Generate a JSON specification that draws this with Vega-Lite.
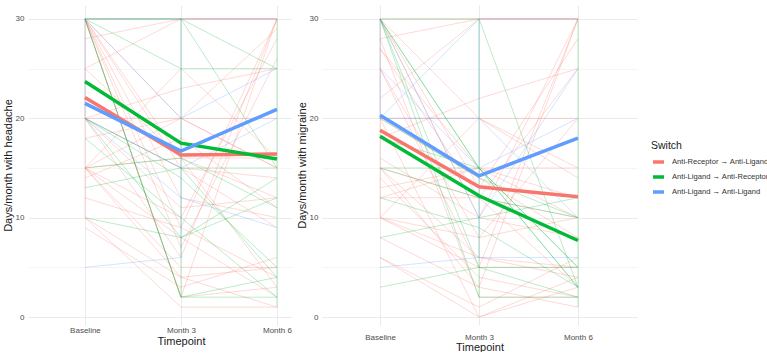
{
  "$schema": "https://vega.github.io/schema/vega-lite/v6.json",
  "background": "white",
  "padding": {"left": 2, "top": 5, "right": 0, "bottom": 0},
  "bounds": "flush",
  "spacing": 30,
  "datasets": {
    "patients": [
      {"id": "r1", "switch": "Anti-Receptor → Anti-Ligand", "month": 0, "headache": 30, "migraine": 30},
      {"id": "r1", "switch": "Anti-Receptor → Anti-Ligand", "month": 3, "headache": 30, "migraine": 30},
      {"id": "r1", "switch": "Anti-Receptor → Anti-Ligand", "month": 6, "headache": 30, "migraine": 30},
      {"id": "r2", "switch": "Anti-Receptor → Anti-Ligand", "month": 0, "headache": 30, "migraine": 28},
      {"id": "r2", "switch": "Anti-Receptor → Anti-Ligand", "month": 3, "headache": 2, "migraine": 2},
      {"id": "r2", "switch": "Anti-Receptor → Anti-Ligand", "month": 6, "headache": 3, "migraine": 2},
      {"id": "r3", "switch": "Anti-Receptor → Anti-Ligand", "month": 0, "headache": 30, "migraine": 30},
      {"id": "r3", "switch": "Anti-Receptor → Anti-Ligand", "month": 3, "headache": 9, "migraine": 10},
      {"id": "r3", "switch": "Anti-Receptor → Anti-Ligand", "month": 6, "headache": 30, "migraine": 30},
      {"id": "r4", "switch": "Anti-Receptor → Anti-Ligand", "month": 0, "headache": 30, "migraine": 25},
      {"id": "r4", "switch": "Anti-Receptor → Anti-Ligand", "month": 3, "headache": 12, "migraine": 8},
      {"id": "r4", "switch": "Anti-Receptor → Anti-Ligand", "month": 6, "headache": 10, "migraine": 10},
      {"id": "r5", "switch": "Anti-Receptor → Anti-Ligand", "month": 0, "headache": 30, "migraine": 30},
      {"id": "r5", "switch": "Anti-Receptor → Anti-Ligand", "month": 3, "headache": 20, "migraine": 20},
      {"id": "r5", "switch": "Anti-Receptor → Anti-Ligand", "month": 6, "headache": 15, "migraine": 14},
      {"id": "r6", "switch": "Anti-Receptor → Anti-Ligand", "month": 0, "headache": 30, "migraine": 27},
      {"id": "r6", "switch": "Anti-Receptor → Anti-Ligand", "month": 3, "headache": 15, "migraine": 12},
      {"id": "r6", "switch": "Anti-Receptor → Anti-Ligand", "month": 6, "headache": 14, "migraine": 10},
      {"id": "r7", "switch": "Anti-Receptor → Anti-Ligand", "month": 0, "headache": 28, "migraine": 28},
      {"id": "r7", "switch": "Anti-Receptor → Anti-Ligand", "month": 3, "headache": 30, "migraine": 30},
      {"id": "r7", "switch": "Anti-Receptor → Anti-Ligand", "month": 6, "headache": 30, "migraine": 30},
      {"id": "r8", "switch": "Anti-Receptor → Anti-Ligand", "month": 0, "headache": 25, "migraine": 20},
      {"id": "r8", "switch": "Anti-Receptor → Anti-Ligand", "month": 3, "headache": 16, "migraine": 14},
      {"id": "r8", "switch": "Anti-Receptor → Anti-Ligand", "month": 6, "headache": 12, "migraine": 8},
      {"id": "r9", "switch": "Anti-Receptor → Anti-Ligand", "month": 0, "headache": 20, "migraine": 20},
      {"id": "r9", "switch": "Anti-Receptor → Anti-Ligand", "month": 3, "headache": 20, "migraine": 20},
      {"id": "r9", "switch": "Anti-Receptor → Anti-Ligand", "month": 6, "headache": 20, "migraine": 20},
      {"id": "r10", "switch": "Anti-Receptor → Anti-Ligand", "month": 0, "headache": 20, "migraine": 18},
      {"id": "r10", "switch": "Anti-Receptor → Anti-Ligand", "month": 3, "headache": 23, "migraine": 22},
      {"id": "r10", "switch": "Anti-Receptor → Anti-Ligand", "month": 6, "headache": 25, "migraine": 25},
      {"id": "r11", "switch": "Anti-Receptor → Anti-Ligand", "month": 0, "headache": 20, "migraine": 15},
      {"id": "r11", "switch": "Anti-Receptor → Anti-Ligand", "month": 3, "headache": 6, "migraine": 3},
      {"id": "r11", "switch": "Anti-Receptor → Anti-Ligand", "month": 6, "headache": 30, "migraine": 30},
      {"id": "r12", "switch": "Anti-Receptor → Anti-Ligand", "month": 0, "headache": 15, "migraine": 15},
      {"id": "r12", "switch": "Anti-Receptor → Anti-Ligand", "month": 3, "headache": 20, "migraine": 12},
      {"id": "r12", "switch": "Anti-Receptor → Anti-Ligand", "month": 6, "headache": 29, "migraine": 25},
      {"id": "r13", "switch": "Anti-Receptor → Anti-Ligand", "month": 0, "headache": 15, "migraine": 12},
      {"id": "r13", "switch": "Anti-Receptor → Anti-Ligand", "month": 3, "headache": 16, "migraine": 12},
      {"id": "r13", "switch": "Anti-Receptor → Anti-Ligand", "month": 6, "headache": 3, "migraine": 3},
      {"id": "r14", "switch": "Anti-Receptor → Anti-Ligand", "month": 0, "headache": 15, "migraine": 15},
      {"id": "r14", "switch": "Anti-Receptor → Anti-Ligand", "month": 3, "headache": 4, "migraine": 6},
      {"id": "r14", "switch": "Anti-Receptor → Anti-Ligand", "month": 6, "headache": 5, "migraine": 5},
      {"id": "r15", "switch": "Anti-Receptor → Anti-Ligand", "month": 0, "headache": 15, "migraine": 10},
      {"id": "r15", "switch": "Anti-Receptor → Anti-Ligand", "month": 3, "headache": 5, "migraine": 5},
      {"id": "r15", "switch": "Anti-Receptor → Anti-Ligand", "month": 6, "headache": 5, "migraine": 5},
      {"id": "r16", "switch": "Anti-Receptor → Anti-Ligand", "month": 0, "headache": 15, "migraine": 10},
      {"id": "r16", "switch": "Anti-Receptor → Anti-Ligand", "month": 3, "headache": 10, "migraine": 8},
      {"id": "r16", "switch": "Anti-Receptor → Anti-Ligand", "month": 6, "headache": 28, "migraine": 20},
      {"id": "r17", "switch": "Anti-Receptor → Anti-Ligand", "month": 0, "headache": 15, "migraine": 10},
      {"id": "r17", "switch": "Anti-Receptor → Anti-Ligand", "month": 3, "headache": 25, "migraine": 20},
      {"id": "r17", "switch": "Anti-Receptor → Anti-Ligand", "month": 6, "headache": 16, "migraine": 15},
      {"id": "r18", "switch": "Anti-Receptor → Anti-Ligand", "month": 0, "headache": 15, "migraine": 14},
      {"id": "r18", "switch": "Anti-Receptor → Anti-Ligand", "month": 3, "headache": 8, "migraine": 4},
      {"id": "r18", "switch": "Anti-Receptor → Anti-Ligand", "month": 6, "headache": 2, "migraine": 2},
      {"id": "r19", "switch": "Anti-Receptor → Anti-Ligand", "month": 0, "headache": 14, "migraine": 12},
      {"id": "r19", "switch": "Anti-Receptor → Anti-Ligand", "month": 3, "headache": 18, "migraine": 15},
      {"id": "r19", "switch": "Anti-Receptor → Anti-Ligand", "month": 6, "headache": 11, "migraine": 10},
      {"id": "r20", "switch": "Anti-Receptor → Anti-Ligand", "month": 0, "headache": 12, "migraine": 10},
      {"id": "r20", "switch": "Anti-Receptor → Anti-Ligand", "month": 3, "headache": 9, "migraine": 6},
      {"id": "r20", "switch": "Anti-Receptor → Anti-Ligand", "month": 6, "headache": 4, "migraine": 4},
      {"id": "r21", "switch": "Anti-Receptor → Anti-Ligand", "month": 0, "headache": 10, "migraine": 8},
      {"id": "r21", "switch": "Anti-Receptor → Anti-Ligand", "month": 3, "headache": 4, "migraine": 3},
      {"id": "r21", "switch": "Anti-Receptor → Anti-Ligand", "month": 6, "headache": 1, "migraine": 1},
      {"id": "r22", "switch": "Anti-Receptor → Anti-Ligand", "month": 0, "headache": 10, "migraine": 6},
      {"id": "r22", "switch": "Anti-Receptor → Anti-Ligand", "month": 3, "headache": 1, "migraine": 0},
      {"id": "r22", "switch": "Anti-Receptor → Anti-Ligand", "month": 6, "headache": 1, "migraine": 4},
      {"id": "r23", "switch": "Anti-Receptor → Anti-Ligand", "month": 0, "headache": 9, "migraine": 6},
      {"id": "r23", "switch": "Anti-Receptor → Anti-Ligand", "month": 3, "headache": 3, "migraine": 1},
      {"id": "r23", "switch": "Anti-Receptor → Anti-Ligand", "month": 6, "headache": 6, "migraine": 6},
      {"id": "r24", "switch": "Anti-Receptor → Anti-Ligand", "month": 0, "headache": 30, "migraine": 30},
      {"id": "r24", "switch": "Anti-Receptor → Anti-Ligand", "month": 3, "headache": 7, "migraine": 13},
      {"id": "r24", "switch": "Anti-Receptor → Anti-Ligand", "month": 6, "headache": 26, "migraine": 28},
      {"id": "r25", "switch": "Anti-Receptor → Anti-Ligand", "month": 0, "headache": 25, "migraine": 22},
      {"id": "r25", "switch": "Anti-Receptor → Anti-Ligand", "month": 3, "headache": 30, "migraine": 30},
      {"id": "r25", "switch": "Anti-Receptor → Anti-Ligand", "month": 6, "headache": 30, "migraine": 30},
      {"id": "r26", "switch": "Anti-Receptor → Anti-Ligand", "month": 0, "headache": 20, "migraine": 16},
      {"id": "r26", "switch": "Anti-Receptor → Anti-Ligand", "month": 3, "headache": 15, "migraine": 10},
      {"id": "r26", "switch": "Anti-Receptor → Anti-Ligand", "month": 6, "headache": 9, "migraine": 8},
      {"id": "r27", "switch": "Anti-Receptor → Anti-Ligand", "month": 0, "headache": 30, "migraine": 25},
      {"id": "r27", "switch": "Anti-Receptor → Anti-Ligand", "month": 3, "headache": 2, "migraine": 5},
      {"id": "r27", "switch": "Anti-Receptor → Anti-Ligand", "month": 6, "headache": 30, "migraine": 30},
      {"id": "r28", "switch": "Anti-Receptor → Anti-Ligand", "month": 0, "headache": 18, "migraine": 13},
      {"id": "r28", "switch": "Anti-Receptor → Anti-Ligand", "month": 3, "headache": 20, "migraine": 15},
      {"id": "r28", "switch": "Anti-Receptor → Anti-Ligand", "month": 6, "headache": 15, "migraine": 15},
      {"id": "r29", "switch": "Anti-Receptor → Anti-Ligand", "month": 0, "headache": 30, "migraine": 27},
      {"id": "r29", "switch": "Anti-Receptor → Anti-Ligand", "month": 3, "headache": 16, "migraine": 15},
      {"id": "r29", "switch": "Anti-Receptor → Anti-Ligand", "month": 6, "headache": 16, "migraine": 12},
      {"id": "r30", "switch": "Anti-Receptor → Anti-Ligand", "month": 0, "headache": 20, "migraine": 20},
      {"id": "r30", "switch": "Anti-Receptor → Anti-Ligand", "month": 3, "headache": 11, "migraine": 0},
      {"id": "r30", "switch": "Anti-Receptor → Anti-Ligand", "month": 6, "headache": 12, "migraine": 3},
      {"id": "r31", "switch": "Anti-Receptor → Anti-Ligand", "month": 0, "headache": 10, "migraine": 10},
      {"id": "r31", "switch": "Anti-Receptor → Anti-Ligand", "month": 0, "headache": 30, "migraine": 30},
      {"id": "g1", "switch": "Anti-Ligand → Anti-Receptor", "month": 0, "headache": 30, "migraine": 30},
      {"id": "g1", "switch": "Anti-Ligand → Anti-Receptor", "month": 3, "headache": 25, "migraine": 15},
      {"id": "g1", "switch": "Anti-Ligand → Anti-Receptor", "month": 6, "headache": 25, "migraine": 3},
      {"id": "g2", "switch": "Anti-Ligand → Anti-Receptor", "month": 0, "headache": 30, "migraine": 30},
      {"id": "g2", "switch": "Anti-Ligand → Anti-Receptor", "month": 3, "headache": 2, "migraine": 2},
      {"id": "g2", "switch": "Anti-Ligand → Anti-Receptor", "month": 6, "headache": 2, "migraine": 2},
      {"id": "g3", "switch": "Anti-Ligand → Anti-Receptor", "month": 0, "headache": 30, "migraine": 30},
      {"id": "g3", "switch": "Anti-Ligand → Anti-Receptor", "month": 3, "headache": 2, "migraine": 5},
      {"id": "g3", "switch": "Anti-Ligand → Anti-Receptor", "month": 6, "headache": 4, "migraine": 5},
      {"id": "g4", "switch": "Anti-Ligand → Anti-Receptor", "month": 0, "headache": 30, "migraine": 30},
      {"id": "g4", "switch": "Anti-Ligand → Anti-Receptor", "month": 3, "headache": 30, "migraine": 30},
      {"id": "g4", "switch": "Anti-Ligand → Anti-Receptor", "month": 6, "headache": 15, "migraine": 3},
      {"id": "g5", "switch": "Anti-Ligand → Anti-Receptor", "month": 0, "headache": 20, "migraine": 20},
      {"id": "g5", "switch": "Anti-Ligand → Anti-Receptor", "month": 3, "headache": 15, "migraine": 14},
      {"id": "g5", "switch": "Anti-Ligand → Anti-Receptor", "month": 6, "headache": 15, "migraine": 10},
      {"id": "g6", "switch": "Anti-Ligand → Anti-Receptor", "month": 0, "headache": 20, "migraine": 18},
      {"id": "g6", "switch": "Anti-Ligand → Anti-Receptor", "month": 3, "headache": 14, "migraine": 15},
      {"id": "g6", "switch": "Anti-Ligand → Anti-Receptor", "month": 6, "headache": 5, "migraine": 3},
      {"id": "g7", "switch": "Anti-Ligand → Anti-Receptor", "month": 0, "headache": 20, "migraine": 15},
      {"id": "g7", "switch": "Anti-Ligand → Anti-Receptor", "month": 3, "headache": 8, "migraine": 15},
      {"id": "g7", "switch": "Anti-Ligand → Anti-Receptor", "month": 6, "headache": 12, "migraine": 5},
      {"id": "g8", "switch": "Anti-Ligand → Anti-Receptor", "month": 0, "headache": 15, "migraine": 15},
      {"id": "g8", "switch": "Anti-Ligand → Anti-Receptor", "month": 3, "headache": 16, "migraine": 12},
      {"id": "g8", "switch": "Anti-Ligand → Anti-Receptor", "month": 6, "headache": 11, "migraine": 10},
      {"id": "g9", "switch": "Anti-Ligand → Anti-Receptor", "month": 0, "headache": 13, "migraine": 12},
      {"id": "g9", "switch": "Anti-Ligand → Anti-Receptor", "month": 3, "headache": 15, "migraine": 9},
      {"id": "g9", "switch": "Anti-Ligand → Anti-Receptor", "month": 6, "headache": 4, "migraine": 3},
      {"id": "g10", "switch": "Anti-Ligand → Anti-Receptor", "month": 0, "headache": 10, "migraine": 8},
      {"id": "g10", "switch": "Anti-Ligand → Anti-Receptor", "month": 3, "headache": 8, "migraine": 10},
      {"id": "g10", "switch": "Anti-Ligand → Anti-Receptor", "month": 6, "headache": 14, "migraine": 12},
      {"id": "g11", "switch": "Anti-Ligand → Anti-Receptor", "month": 0, "headache": 30, "migraine": 30},
      {"id": "g11", "switch": "Anti-Ligand → Anti-Receptor", "month": 3, "headache": 30, "migraine": 15},
      {"id": "g11", "switch": "Anti-Ligand → Anti-Receptor", "month": 6, "headache": 25, "migraine": 5},
      {"id": "g12", "switch": "Anti-Ligand → Anti-Receptor", "month": 0, "headache": 18, "migraine": 3},
      {"id": "g12", "switch": "Anti-Ligand → Anti-Receptor", "month": 3, "headache": 10, "migraine": 5},
      {"id": "g12", "switch": "Anti-Ligand → Anti-Receptor", "month": 6, "headache": 2, "migraine": 2},
      {"id": "g13", "switch": "Anti-Ligand → Anti-Receptor", "month": 3, "headache": 2, "migraine": 2},
      {"id": "g13", "switch": "Anti-Ligand → Anti-Receptor", "month": 3, "headache": 30, "migraine": 30},
      {"id": "g14", "switch": "Anti-Ligand → Anti-Receptor", "month": 6, "headache": 1, "migraine": 1},
      {"id": "g14", "switch": "Anti-Ligand → Anti-Receptor", "month": 6, "headache": 30, "migraine": 30},
      {"id": "b1", "switch": "Anti-Ligand → Anti-Ligand", "month": 0, "headache": 30, "migraine": 20},
      {"id": "b1", "switch": "Anti-Ligand → Anti-Ligand", "month": 3, "headache": 30, "migraine": 30},
      {"id": "b1", "switch": "Anti-Ligand → Anti-Ligand", "month": 6, "headache": 30, "migraine": 30},
      {"id": "b2", "switch": "Anti-Ligand → Anti-Ligand", "month": 0, "headache": 20, "migraine": 25},
      {"id": "b2", "switch": "Anti-Ligand → Anti-Ligand", "month": 3, "headache": 12, "migraine": 15},
      {"id": "b2", "switch": "Anti-Ligand → Anti-Ligand", "month": 6, "headache": 9, "migraine": 20},
      {"id": "b3", "switch": "Anti-Ligand → Anti-Ligand", "month": 0, "headache": 20, "migraine": 20},
      {"id": "b3", "switch": "Anti-Ligand → Anti-Ligand", "month": 3, "headache": 15, "migraine": 20},
      {"id": "b3", "switch": "Anti-Ligand → Anti-Ligand", "month": 6, "headache": 20, "migraine": 10},
      {"id": "b4", "switch": "Anti-Ligand → Anti-Ligand", "month": 0, "headache": 30, "migraine": 30},
      {"id": "b4", "switch": "Anti-Ligand → Anti-Ligand", "month": 3, "headache": 20, "migraine": 10},
      {"id": "b4", "switch": "Anti-Ligand → Anti-Ligand", "month": 6, "headache": 25, "migraine": 25},
      {"id": "b5", "switch": "Anti-Ligand → Anti-Ligand", "month": 0, "headache": 5, "migraine": 5},
      {"id": "b5", "switch": "Anti-Ligand → Anti-Ligand", "month": 3, "headache": 6, "migraine": 6},
      {"id": "b5", "switch": "Anti-Ligand → Anti-Ligand", "month": 6, "headache": null, "migraine": 6},
      {"id": "b6", "switch": "Anti-Ligand → Anti-Ligand", "month": 0, "headache": 20, "migraine": 20},
      {"id": "b6", "switch": "Anti-Ligand → Anti-Ligand", "month": 0, "headache": 30, "migraine": 30},
      {"id": "b7", "switch": "Anti-Ligand → Anti-Ligand", "month": 3, "headache": 6, "migraine": 6},
      {"id": "b7", "switch": "Anti-Ligand → Anti-Ligand", "month": 3, "headache": 30, "migraine": 30}
    ],
    "means": [
      {"switch": "Anti-Receptor → Anti-Ligand", "month": 0, "headache": 22.1, "migraine": 18.8},
      {"switch": "Anti-Receptor → Anti-Ligand", "month": 3, "headache": 16.3, "migraine": 13.1},
      {"switch": "Anti-Receptor → Anti-Ligand", "month": 6, "headache": 16.4, "migraine": 12.1},
      {"switch": "Anti-Ligand → Anti-Receptor", "month": 0, "headache": 23.7, "migraine": 18.2},
      {"switch": "Anti-Ligand → Anti-Receptor", "month": 3, "headache": 17.5, "migraine": 12.2},
      {"switch": "Anti-Ligand → Anti-Receptor", "month": 6, "headache": 15.9, "migraine": 7.7},
      {"switch": "Anti-Ligand → Anti-Ligand", "month": 0, "headache": 21.5, "migraine": 20.3},
      {"switch": "Anti-Ligand → Anti-Ligand", "month": 3, "headache": 16.7, "migraine": 14.2},
      {"switch": "Anti-Ligand → Anti-Ligand", "month": 6, "headache": 20.9, "migraine": 18.0}
    ]
  },
  "hconcat": [
    {
      "width": 264,
      "height": 320,
      "layer": [
        {
          "data": {"name": "patients"},
          "mark": {"type": "line", "strokeWidth": 0.9, "opacity": 0.3},
          "encoding": {
            "x": {"field": "month", "type": "quantitative", "scale": {"domain": [-1.78, 6.47], "nice": false, "zero": false},
                  "axis": {"values": [0, 3, 6], "labelExpr": "datum.value === 0 ? 'Baseline' : 'Month ' + datum.value", "title": "Timepoint", "titleX": 153, "labelPadding": 1, "titlePadding": 1}},
            "y": {"field": "headache", "type": "quantitative", "scale": {"domain": [-0.8, 31.4], "nice": false, "zero": false},
                  "axis": {"title": "Days/month with headache", "values": [0, 5, 10, 15, 20, 25, 30], "labelExpr": "datum.value % 10 === 0 ? datum.label : ''", "gridWidth": {"condition": {"test": "datum.value % 10 === 0", "value": 1}, "value": 0.5}, "labelPadding": 4, "titlePadding": 2}},
            "color": {"field": "switch", "type": "nominal", "title": "Switch",
                      "scale": {"domain": ["Anti-Receptor → Anti-Ligand", "Anti-Ligand → Anti-Receptor", "Anti-Ligand → Anti-Ligand"], "range": ["#F8766D", "#00BA38", "#619CFF"]}},
            "detail": {"field": "id"}
          }
        },
        {
          "data": {"name": "means"},
          "mark": {"type": "line", "strokeWidth": 3.5},
          "encoding": {
            "x": {"field": "month", "type": "quantitative"},
            "y": {"field": "headache", "type": "quantitative"},
            "color": {"field": "switch", "type": "nominal", "title": "Switch"}
          }
        }
      ]
    },
    {
      "width": 315,
      "height": 320,
      "layer": [
        {
          "data": {"name": "patients"},
          "mark": {"type": "line", "strokeWidth": 0.9, "opacity": 0.3},
          "encoding": {
            "x": {"field": "month", "type": "quantitative", "scale": {"domain": [-1.76, 7.79], "nice": false, "zero": false},
                  "axis": {"values": [0, 3, 6], "labelExpr": "datum.value === 0 ? 'Baseline' : 'Month ' + datum.value", "title": "Timepoint", "labelPadding": 8, "titlePadding": 0}},
            "y": {"field": "migraine", "type": "quantitative", "scale": {"domain": [-0.8, 31.4], "nice": false, "zero": false},
                  "axis": {"title": "Days/month with migraine", "values": [0, 5, 10, 15, 20, 25, 30], "labelExpr": "datum.value % 10 === 0 ? datum.label : ''", "gridWidth": {"condition": {"test": "datum.value % 10 === 0", "value": 1}, "value": 0.5}, "labelPadding": 4, "titlePadding": 2}},
            "color": {"field": "switch", "type": "nominal", "title": "Switch"},
            "detail": {"field": "id"}
          }
        },
        {
          "data": {"name": "means"},
          "mark": {"type": "line", "strokeWidth": 3.5},
          "encoding": {
            "x": {"field": "month", "type": "quantitative"},
            "y": {"field": "migraine", "type": "quantitative"},
            "color": {"field": "switch", "type": "nominal", "title": "Switch"}
          }
        }
      ]
    }
  ],
  "resolve": {"scale": {"color": "shared"}},
  "config": {
    "font": "Liberation Sans",
    "view": {"stroke": null},
    "axis": {
      "domain": false,
      "ticks": false,
      "tickSize": 0,
      "gridColor": "#EBEBEB",
      "labelColor": "#4D4D4D",
      "labelFontSize": 8,
      "titleFontSize": 11,
      "titleFontWeight": "normal",
      "titleColor": "#1A1A1A"
    },
    "legend": {
      "orient": "none",
      "legendX": 623,
      "legendY": 136,
      "titleFontSize": 10.5,
      "titleFontWeight": "normal",
      "titleColor": "#1A1A1A",
      "titlePadding": 3,
      "labelFontSize": 7.6,
      "labelColor": "#333333",
      "labelOffset": 6,
      "labelLimit": 200,
      "symbolType": "stroke",
      "symbolStrokeWidth": 3.5,
      "symbolSize": 121,
      "symbolOpacity": 1,
      "rowPadding": 0
    }
  }
}
